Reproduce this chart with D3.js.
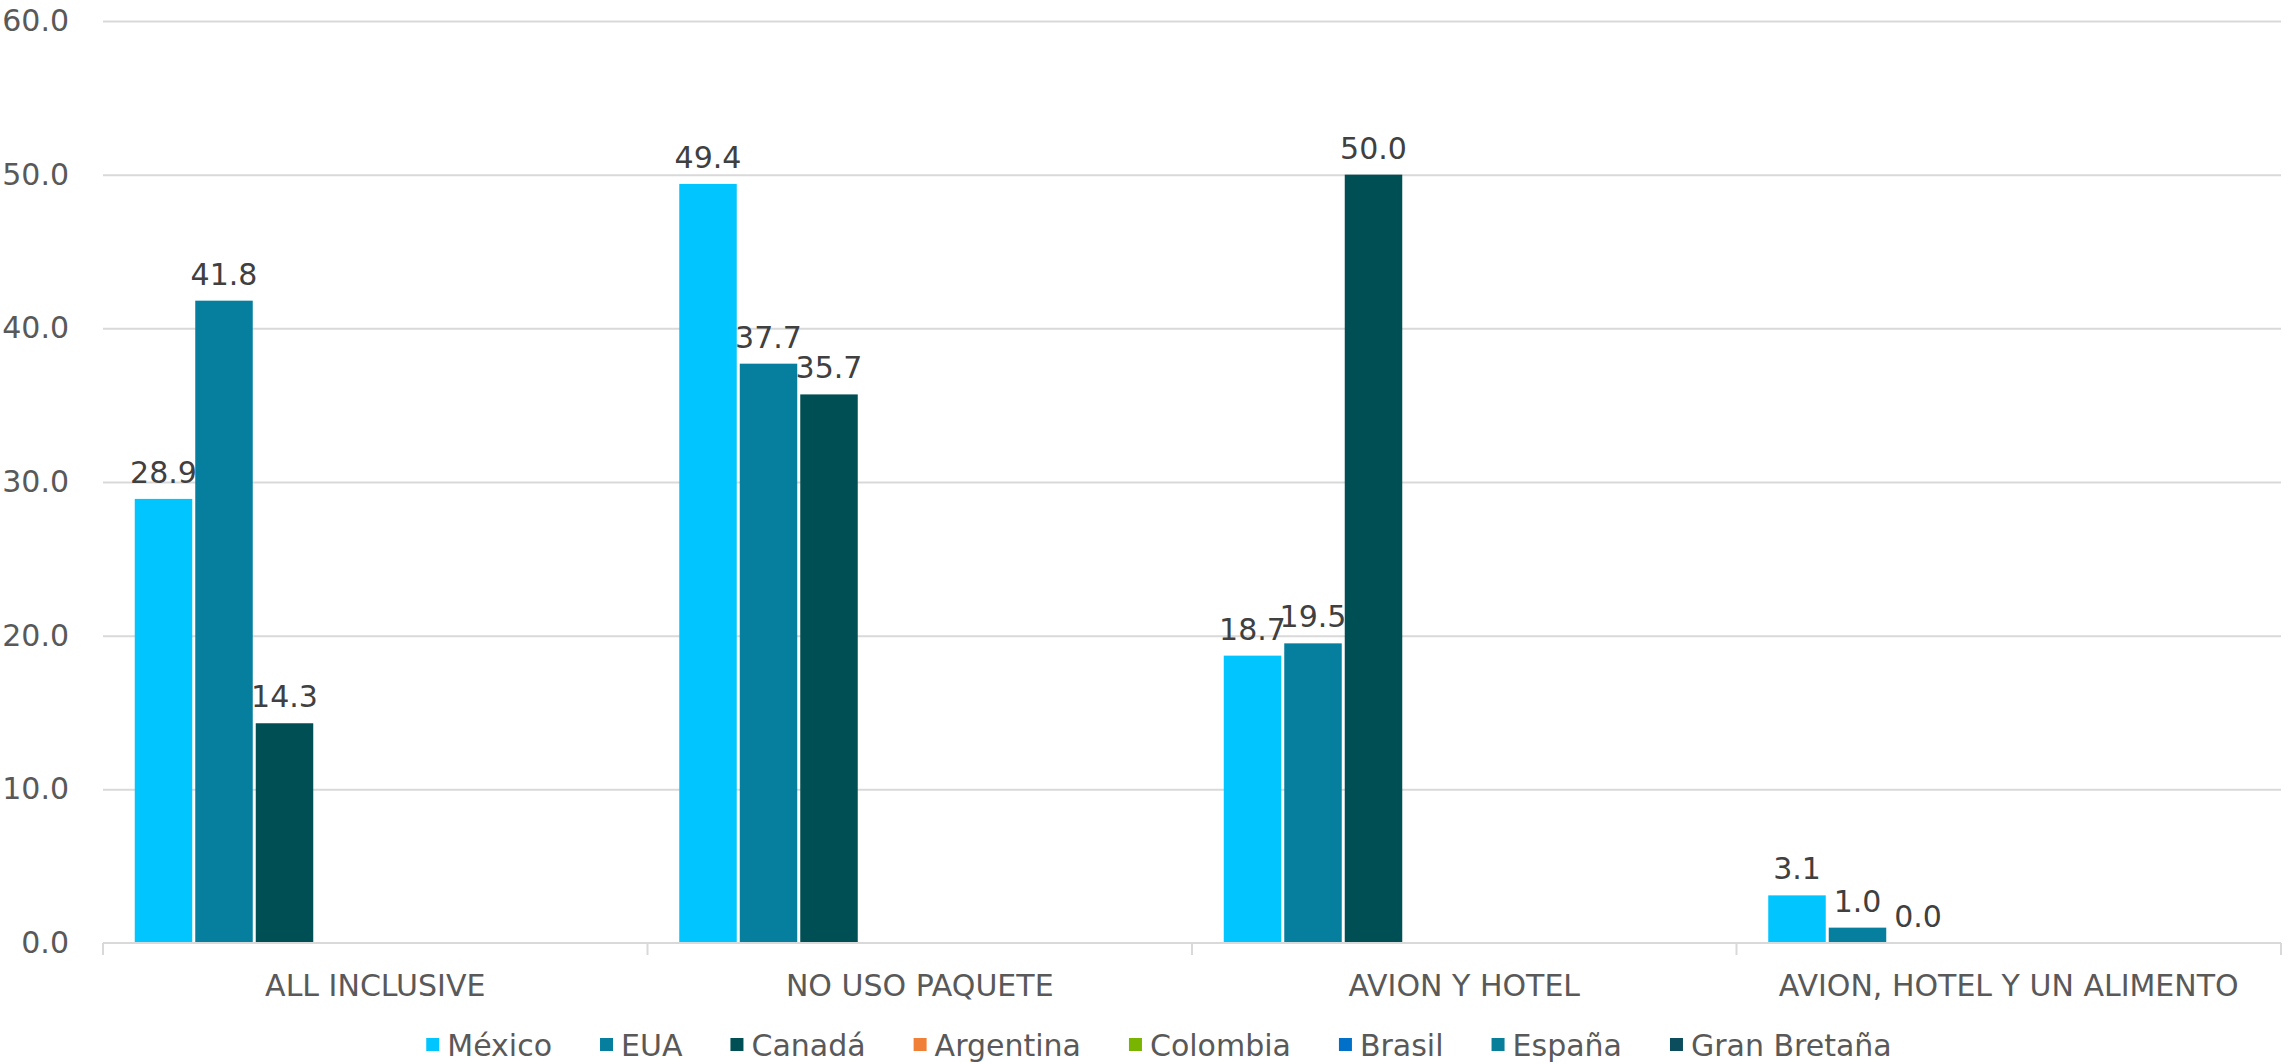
<!DOCTYPE html>
<html>
<head>
<meta charset="utf-8">
<script src="https://cdn.jsdelivr.net/npm/d3@7"></script>
<style>
  body { margin: 0; background: #fff; }
  text { font-family: "Century Gothic", "DejaVu Sans", sans-serif; }
  .grid line { stroke: #d9d9d9; stroke-width: 2; }
  .grid .domain { display: none; }
  .tick-label { fill: #595959; font-size: 30px; }
  .value-label { fill: #404040; font-size: 30px; }
</style>
</head>
<body>
<div id="wrapper"></div>
<script>
// data
const categories = ["ALL INCLUSIVE", "NO USO PAQUETE", "AVION Y HOTEL", "AVION, HOTEL Y UN ALIMENTO"]
const seriesNames = ["México", "EUA", "Canadá", "Argentina", "Colombia", "Brasil", "España", "Gran Bretaña"]
const seriesColors = ["#00c5ff", "#067f9e", "#004f54", "#f08038", "#78b400", "#0070c8", "#077e9a", "#0b4d5c"]
const mexico = [28.9, 49.4, 18.7, 3.1]
const eua = [41.8, 37.7, 19.5, 1.0]
const canada = [14.3, 35.7, 50.0, 0.0]
const argentina = [null, null, null, null]
const colombia = [null, null, null, null]
const brasil = [null, null, null, null]
const espana = [null, null, null, null]
const granBretana = [null, null, null, null]
const seriesValues = [mexico, eua, canada, argentina, colombia, brasil, espana, granBretana]
const yTicks = [0, 10, 20, 30, 40, 50, 60]

function drawChart() {
  const dimensions = {
    width: 2290,
    height: 1064,
    margin: { top: 21, right: 9, bottom: 121, left: 103 }
  }
  dimensions.boundedWidth = dimensions.width - dimensions.margin.left - dimensions.margin.right
  dimensions.boundedHeight = dimensions.height - dimensions.margin.top - dimensions.margin.bottom

  const wrapper = d3.select("#wrapper")
    .append("svg")
      .attr("width", dimensions.width)
      .attr("height", dimensions.height)

  const bounds = wrapper.append("g")
    .attr("transform", `translate(${dimensions.margin.left},${dimensions.margin.top})`)

  // scales
  const xScale = d3.scaleBand()
    .domain(categories)
    .range([0, dimensions.boundedWidth])

  const xSeries = d3.scaleBand()
    .domain(seriesNames)
    .range([0, xScale.bandwidth()])
    .paddingOuter(0.5)

  const yScale = d3.scaleLinear()
    .domain([0, 60])
    .range([dimensions.boundedHeight, 0])

  // gridlines + y labels
  const yAxis = d3.axisLeft(yScale)
    .tickValues(yTicks)
    .tickSize(-dimensions.boundedWidth)
    .tickPadding(34)
    .tickFormat(d3.format(".1f"))

  const yAxisGroup = bounds.append("g")
    .attr("class", "grid")
    .call(yAxis)
  yAxisGroup.selectAll("text")
    .attr("class", "tick-label")
    .attr("font-family", null)
    .attr("font-size", null)
  yAxisGroup.selectAll(".tick").filter(d => d == 0).select("line").remove()

  // bars
  const rows = []
  seriesNames.forEach((name, i) => {
    seriesValues[i].forEach((v, j) => {
      if (v == null) return
      rows.push({ series: name, category: categories[j], value: v, color: seriesColors[i] })
    })
  })

  const barGroups = bounds.selectAll(".bar")
    .data(rows)
    .join("g")
      .attr("class", "bar")
      .attr("transform", d => `translate(${xScale(d.category) + xSeries(d.series)},0)`)

  barGroups.append("rect")
    .attr("x", 1.5)
    .attr("width", xSeries.bandwidth() - 3)
    .attr("y", d => yScale(d.value))
    .attr("height", d => dimensions.boundedHeight - yScale(d.value))
    .attr("fill", d => d.color)

  barGroups.append("text")
    .attr("class", "value-label")
    .attr("x", xSeries.bandwidth() / 2)
    .attr("y", d => yScale(d.value) - 16)
    .attr("text-anchor", "middle")
    .text(d => d3.format(".1f")(d.value))

  // x axis
  const xAxisGroup = bounds.append("g")
    .attr("transform", `translate(0,${dimensions.boundedHeight})`)

  xAxisGroup.append("line")
    .attr("x1", 0)
    .attr("x2", dimensions.boundedWidth)
    .attr("stroke", "#d9d9d9")
    .attr("stroke-width", 2)

  const boundaries = categories.map(c => xScale(c)).concat([dimensions.boundedWidth])
  xAxisGroup.selectAll(".sep")
    .data(boundaries)
    .join("line")
      .attr("class", "sep")
      .attr("x1", d => d)
      .attr("x2", d => d)
      .attr("y1", 0)
      .attr("y2", 12)
      .attr("stroke", "#d9d9d9")
      .attr("stroke-width", 2)

  xAxisGroup.selectAll(".cat")
    .data(categories)
    .join("text")
      .attr("class", "tick-label cat")
      .attr("x", d => xScale(d) + xScale.bandwidth() / 2)
      .attr("y", 53)
      .attr("text-anchor", "middle")
      .text(d => d)

  // legend
  const legend = wrapper.append("g")
    .attr("transform", `translate(0,1045)`)

  const items = legend.selectAll(".legend-item")
    .data(seriesNames)
    .join("g")
      .attr("class", "legend-item")

  items.append("rect")
    .attr("width", 13)
    .attr("height", 13)
    .attr("y", -7)
    .attr("fill", (d, i) => seriesColors[i])

  items.append("text")
    .attr("class", "tick-label")
    .attr("x", 21)
    .attr("dy", "0.35em")
    .text(d => d)

  let offset = 0
  const positions = []
  items.each(function() {
    const w = 21 + d3.select(this).select("text").node().getComputedTextLength()
    positions.push(offset)
    offset += w + 48
  })
  const totalWidth = offset - 48
  const legendStart = 1159 - totalWidth / 2
  items.attr("transform", (d, i) => `translate(${legendStart + positions[i]},0)`)
}
drawChart()
</script>
</body>
</html>
